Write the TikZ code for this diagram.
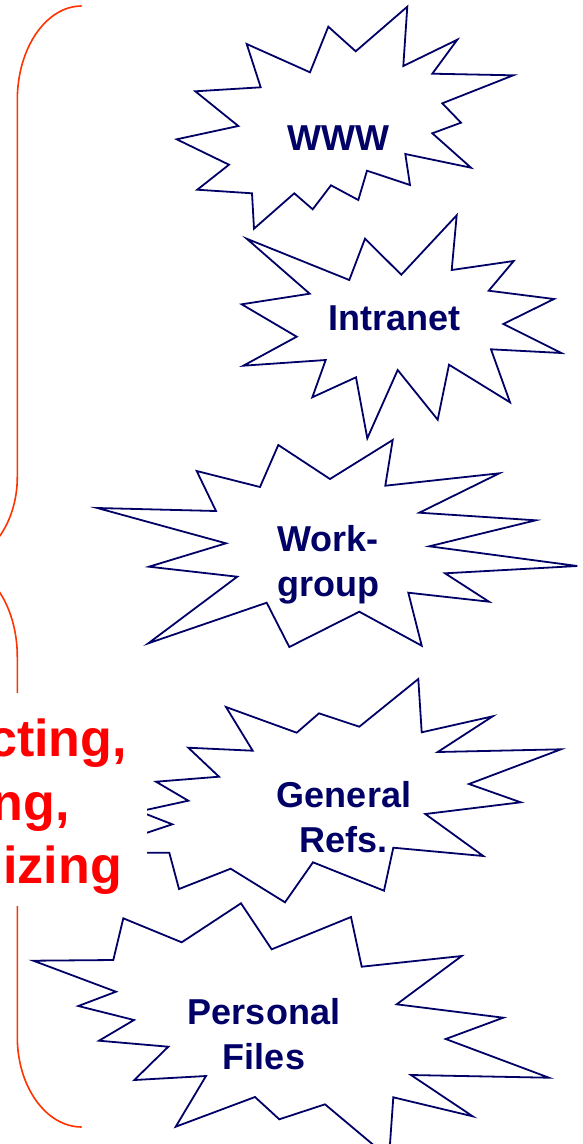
\documentclass[tikz,border=0pt]{standalone}
\usepackage{fontspec}
\setmainfont{Liberation Sans}
\definecolor{navy}{RGB}{0,0,102}
\definecolor{bracecol}{RGB}{255,51,0}
\begin{document}
\begin{tikzpicture}[x=1pt,y=-1pt,
  burst/.style={draw=navy, line width=1.8pt, fill=white},
  lbl/.style={text=navy, font=\fontsize{36}{45}\selectfont\bfseries, align=center, inner sep=0pt},
  redlbl/.style={text=red, font=\fontsize{52}{63}\selectfont\bfseries, inner sep=0pt, anchor=base east},
  bracestyle/.style={draw=bracecol, line width=1.6pt}]
\useasboundingbox (0,0) rectangle (582,1144);
\clip (0,0) rectangle (582,1144);
% brace
\draw[bracestyle] (81.7,6) .. controls (46.1,6) and (17.3,48.1) .. (17.3,100)
  -- (17.3,477) .. controls (17.3,524.5) and (-11.5,563) .. (-47,563)
  .. controls (-11.5,563) and (17.3,605) .. (17.3,656.7)
  -- (17.3,1037) .. controls (17.3,1086.7) and (46.1,1127) .. (81.7,1127);
% WWW
\draw[burst] (246.7,44) -- (310,72.3) -- (328.3,26.7) -- (355.7,51.3) -- (407.3,6.7) -- (403.3,66) -- (457.3,39.7) -- (432.3,73.7) -- (513.3,75.3) -- (442.3,103.3) -- (461,122.7) -- (432.3,133.3) -- (471,167.7) -- (405.3,154) -- (410,185) -- (367,170.7) -- (358.3,200) -- (331,185.3) -- (312.7,209.3) -- (294.3,193.3) -- (254,228.7) -- (252,193.3) -- (197.3,189.7) -- (229,164.7) -- (176.7,139.3) -- (238.3,126) -- (195.3,91.3) -- (260.7,87.3) -- cycle;
\node[lbl, anchor=base] (www) at (338,150.7) {WWW};
% Intranet
\draw[burst] (246.7,238.7) -- (349.3,280) -- (365,238.7) -- (401.3,274.7) -- (456.7,215.3) -- (451.7,270) -- (513.7,261) -- (488.7,290.7) -- (554,299) -- (503.3,324) -- (561.3,353) -- (491,349.3) -- (510,402.3) -- (449,364.7) -- (437.7,419.7) -- (397.7,370) -- (367.3,438.3) -- (356,377.3) -- (312.3,397.3) -- (325.7,360) -- (243.3,365.7) -- (296.7,336.7) -- (241.7,304.3) -- (309.7,293.7) -- cycle;
\node[lbl, anchor=base] (intranet) at (394.2,330) {Intranet};
% Workgroup
\draw[burst] (196.7,471) -- (260,487) -- (278.3,445) -- (330,479) -- (392.7,440) -- (385.3,485.7) -- (499.3,473.3) -- (419.3,512.7) -- (535.7,520.3) -- (429.3,546.3) -- (577.3,566) -- (445,573.3) -- (489,601.7) -- (408.3,592.7) -- (421.7,645.7) -- (359.3,611.7) -- (289.3,647) -- (266.7,602.7) -- (148.3,643.3) -- (237.3,576.7) -- (149,566.7) -- (226,543.3) -- (97.3,508) -- (216,511) -- cycle;
\node[lbl] (workgroup) at (328.3,565.1) {Work-\\group};
% General Refs
\draw[burst] (226,707) -- (296.7,732.7) -- (319,713.3) -- (359.3,726.7) -- (418.3,679) -- (421.7,732.3) -- (492.7,716.3) -- (437.7,752) -- (561,749.3) -- (469,784) -- (520.7,802.3) -- (425.3,814) -- (483.3,856) -- (393.3,847.7) -- (384,890.7) -- (313,862.3) -- (285,902.3) -- (230.7,868.7) -- (179,889) -- (169.3,852.7) -- (120,852.7) -- (110,845) -- (172.3,824.3) -- (139.4,811.4) -- (188.3,800.7) -- (156,781.7) -- (219,776.7) -- (188.3,747.7) -- (252.7,750.7) -- cycle;
\node[lbl] (genrefs) at (344,816.9) {General\\Refs.};
% Personal Files
\draw[burst] (123.3,918.3) -- (181.7,942.3) -- (241,903.3) -- (271.7,949.3) -- (351,917) -- (361.7,966.7) -- (461.7,956) -- (396.7,1004.3) -- (503.3,1017.7) -- (445.7,1039) -- (549,1077.7) -- (411,1075) -- (472.7,1116.3) -- (393.3,1097.3) -- (389,1158) -- (325,1104.3) -- (279.3,1119.3) -- (255,1097) -- (175.7,1126.7) -- (206,1076) -- (134.3,1080) -- (168.3,1046.7) -- (99,1040.7) -- (134,1020) -- (78.3,1006) -- (116,991.7) -- (33.3,960.7) -- (113.3,960) -- cycle;
\node[lbl] (personal) at (264,1034.5) {Personal\\Files};
% red label area
\fill[white] (-10,693) rectangle (146.5,906);
\node[redlbl] (r1) at (127,756.7) {cting,};
\node[redlbl] (r2) at (70,820) {ng,};
\node[redlbl] (r3) at (122,883.3) {izing};
\end{tikzpicture}
\end{document}
